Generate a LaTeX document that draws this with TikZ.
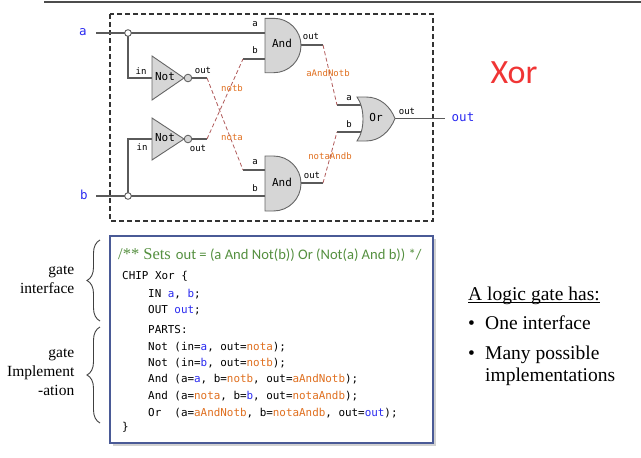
\documentclass[tikz,border=0pt]{standalone}
\usepackage{fontspec}
\setmainfont{Liberation Serif}
\newfontfamily\monof{DejaVu Sans Mono}
\newfontfamily\calibf{Carlito}
\usetikzlibrary{decorations.pathreplacing}
\definecolor{wirec}{HTML}{5A5A5A}
\definecolor{gatefill}{HTML}{D6D6D6}
\definecolor{gateline}{HTML}{666666}
\definecolor{idblue}{HTML}{2A2AF0}
\definecolor{idorange}{HTML}{E07020}
\definecolor{dashwire}{HTML}{B05A5A}
\definecolor{cmtgreen}{HTML}{559040}
\definecolor{xorred}{HTML}{F03535}
\definecolor{boxblue}{HTML}{4A5A96}
\newcommand{\idb}[1]{\textcolor{idblue}{#1}}
\newcommand{\ido}[1]{\textcolor{idorange}{#1}}
\begin{document}
\begin{tikzpicture}[x=1pt,y=1pt,
  wire/.style={draw=wirec,line width=1.1pt},
  dwire/.style={draw=dashwire,line width=0.8pt,dash pattern=on 4pt off 2.5pt},
  gate/.style={draw=gateline,fill=gatefill,line width=0.9pt},
  junc/.style={draw=wirec,fill=white,line width=0.9pt},
  pinlbl/.style={font=\monof\fontsize{9}{9}\selectfont,inner sep=0},
  wlbl/.style={pinlbl,text=idorange},
  gatelbl/.style={font=\monof\fontsize{11}{11}\selectfont,inner sep=0},
  port/.style={font=\monof\fontsize{12.5}{12.5}\selectfont,text=idblue,inner sep=0},
  codeln/.style={font=\monof\fontsize{10.9}{12}\selectfont,anchor=base west,inner sep=0},
  sidelbl/.style={font=\fontsize{15.5}{16}\selectfont,anchor=base east,inner sep=0},
  bultxt/.style={font=\fontsize{19.5}{20}\selectfont,anchor=base west,inner sep=0},
  bracedec/.style={decorate,decoration={brace,amplitude=13pt,aspect=0.5},draw=black!75,line width=0.9pt}]
\useasboundingbox (0,0) rectangle (641,-458);
% top rule
\draw[line width=2pt,black!70] (44,-2) -- (641,-2);
% dashed frame
\draw[line width=1.1pt,black!80,dash pattern=on 5pt off 3pt] (110,-14) rectangle (433,-221);
% coordinates
\coordinate (ina) at (96,-33);
\coordinate (inb) at (96,-196);
\coordinate (ja) at (128,-33);
\coordinate (jb) at (128,-196);
\coordinate (jad) at (128,-78);
\coordinate (jbu) at (128,-139);
\coordinate (n1in) at (152,-78);
\coordinate (n2in) at (152,-139);
\coordinate (n1o) at (192,-78);
\coordinate (n1oe) at (207,-78);
\coordinate (n2o) at (192,-139);
\coordinate (n2oe) at (207,-139);
\coordinate (a1a) at (266,-33);
\coordinate (a1b) at (266,-59);
\coordinate (a1bs) at (243,-59);
\coordinate (a2a) at (266,-170);
\coordinate (a2as) at (243,-170);
\coordinate (a2b) at (266,-196);
\coordinate (a1o) at (300,-45);
\coordinate (a1oe) at (323,-45);
\coordinate (a2o) at (300,-183);
\coordinate (a2oe) at (323,-183);
\coordinate (ora) at (362,-105);
\coordinate (oras) at (337,-105);
\coordinate (orb) at (362,-132);
\coordinate (orbs) at (337,-132);
\coordinate (oro) at (394,-118.5);
\coordinate (oute) at (445,-118.5);
% wires
\draw[wire] (ina) -- (ja) -- (a1a);
\draw[wire] (ja) -- (jad) -- (n1in);
\draw[wire] (inb) -- (jb) -- (a2b);
\draw[wire] (jb) -- (jbu) -- (n2in);
\draw[wire] (n1o) -- (n1oe);
\draw[wire] (n2o) -- (n2oe);
\draw[wire] (a1bs) -- (a1b);
\draw[wire] (a2as) -- (a2a);
\draw[wire] (a1o) -- (a1oe);
\draw[wire] (a2o) -- (a2oe);
\draw[wire] (oras) -- (ora);
\draw[wire] (orbs) -- (orb);
\draw[wire] (oro) -- (oute);
% dashed internal pins
\draw[dwire] (n1oe) -- (a2as);
\draw[dwire] (n2oe) -- (a1bs);
\draw[dwire] (a1oe) -- (oras);
\draw[dwire] (a2oe) -- (orbs);
% gates
\draw[gate] (152,-56) -- (184,-78) -- (152,-100) -- cycle;
\draw[gate] (188,-78) circle[radius=3.8];
\draw[gate] (152,-118) -- (184,-139) -- (152,-160) -- cycle;
\draw[gate] (188,-139) circle[radius=3.8];
\draw[gate] (265,-18.3) -- (273.8,-18.3) arc[start angle=90,end angle=-90,radius=27.2] -- (265,-72.7) -- cycle;
\draw[gate] (265,-156) -- (273.5,-156) arc[start angle=90,end angle=-90,radius=27.5] -- (265,-211) -- cycle;
\draw[gate] (357,-97) -- (366,-97) .. controls (380,-97) and (390,-106) .. (395,-118.5)
  .. controls (390,-131) and (380,-141) .. (366,-141) -- (357,-141)
  .. controls (365,-130) and (365,-108) .. (357,-97) -- cycle;
% junctions
\draw[junc] (ja) circle[radius=3.3];
\draw[junc] (jb) circle[radius=3.3];
% labels
\node[port] (pa) at (83,-32) {a};
\node[port] (pb) at (84,-195) {b};
\node[port] (pout) at (463,-117) {out};
\node[pinlbl] (n1inl) at (141,-71) {in};
\node[gatelbl] (n1l) at (165,-77) {Not};
\node[pinlbl] (n1outl) at (203,-70) {out};
\node[pinlbl] (n2inl) at (142,-147) {in};
\node[gatelbl] (n2l) at (165,-138) {Not};
\node[pinlbl] (n2outl) at (198,-148) {out};
\node[wlbl] (notbl) at (232,-88) {notb};
\node[wlbl] (notal) at (232,-137) {nota};
\node[pinlbl] (a1al) at (255,-24) {a};
\node[pinlbl] (a1bl) at (255,-50) {b};
\node[gatelbl] (a1l) at (282,-43) {And};
\node[pinlbl] (a1outl) at (311,-36) {out};
\node[pinlbl] (a2al) at (255,-162) {a};
\node[pinlbl] (a2bl) at (255,-188) {b};
\node[gatelbl] (a2l) at (282,-182) {And};
\node[pinlbl] (a2outl) at (312,-175) {out};
\node[wlbl] (aanbl) at (328,-73) {aAndNotb};
\node[wlbl] (naabl) at (330,-156) {notaAndb};
\node[pinlbl] (oal) at (349,-98) {a};
\node[pinlbl] (obl) at (349,-124) {b};
\node[gatelbl] (orl) at (376,-117) {Or};
\node[pinlbl] (ooutl) at (407,-111) {out};
\node[font=\calibf\fontsize{34}{34}\selectfont,text=xorred,inner sep=0] (xor) at (514,-73) {Xor};
% code box
\fill[black!18] (112.5,-238.5) rectangle (435.5,-445.5);
\draw[draw=boxblue,fill=white,line width=1.3pt] (110,-236) rectangle (433,-443);
\node[anchor=base west,inner sep=0,text=cmtgreen] (cmt) at (118,-259)
  {{\fontsize{16.5}{17}\selectfont /** Sets}\hspace{5pt}{\calibf\fontsize{14.6}{15}\selectfont out = (a And Not(b)) Or (Not(a) And b)) */}};
\node[codeln] (c1) at (122,-279) {CHIP Xor \{};
\node[codeln] (c2) at (148,-297) {IN \idb{a}, \idb{b};};
\node[codeln] (c3) at (148,-313) {OUT \idb{out};};
\node[codeln] (c4) at (148,-333) {PARTS:};
\node[codeln] (c5) at (148,-350) {Not (in=\idb{a}, out=\ido{nota});};
\node[codeln] (c6) at (148,-366) {Not (in=\idb{b}, out=\ido{notb});};
\node[codeln] (c7) at (148,-382) {And (a=\idb{a}, b=\ido{notb}, out=\ido{aAndNotb});};
\node[codeln] (c8) at (148,-399) {And (a=\ido{nota}, b=\idb{b}, out=\ido{notaAndb});};
\node[codeln] (c9) at (148,-416) {Or\ \ (a=\ido{aAndNotb}, b=\ido{notaAndb}, out=\idb{out});};
\node[codeln] (c10) at (122,-430) {\}};
% side labels and braces
\node[sidelbl] (s1) at (74.5,-274.3) {gate};
\node[sidelbl] (s2) at (74.5,-293.3) {interface};
\node[sidelbl] (s3) at (74.5,-357.3) {gate};
\node[sidelbl] (s4) at (74.5,-376.7) {Implement};
\node[sidelbl] (s5) at (74.5,-395.7) {-ation};
\coordinate (b1b) at (100,-321);
\coordinate (b1t) at (100,-240);
\coordinate (b2b) at (100,-423);
\coordinate (b2t) at (100,-327);
\draw[bracedec] (b1b) -- (b1t);
\draw[bracedec] (b2b) -- (b2t);
% right text
\node[bultxt] (head) at (468,-300) {A logic gate has:};
\draw[line width=0.8pt] ([yshift=-2.5pt]head.base west) -- ([yshift=-2.5pt]head.base east);
\node[bultxt] (bu1) at (468,-329) {•};
\node[bultxt] (t1) at (485,-329) {One interface};
\node[bultxt] (bu2) at (468,-359) {•};
\node[bultxt] (t2) at (485,-359) {Many possible};
\node[bultxt] (t3) at (485,-381.7) {implementations};
\end{tikzpicture}
\end{document}
